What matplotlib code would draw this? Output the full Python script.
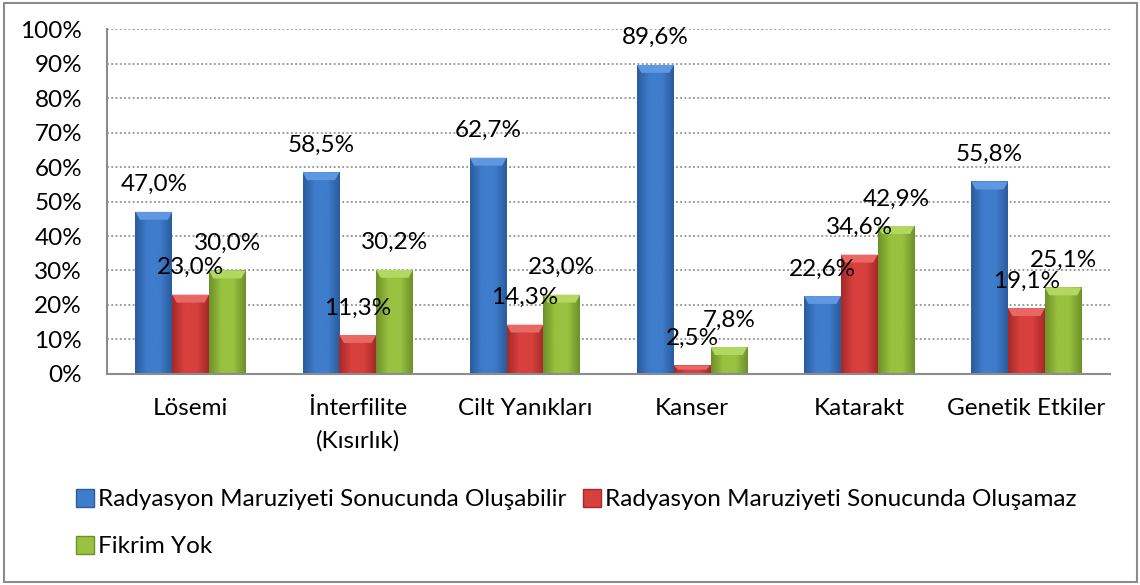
import numpy as np
import matplotlib
matplotlib.use("Agg")
import matplotlib.pyplot as plt
from matplotlib.patches import Patch, Polygon, Rectangle
from matplotlib.colors import LinearSegmentedColormap
from matplotlib.ticker import MultipleLocator, FuncFormatter

plt.rcParams['font.family'] = ['Lato', 'DejaVu Sans']

# data (percent)
categories = ["Lösemi", "İnterfilite\n(Kısırlık)", "Cilt Yanıkları", "Kanser", "Katarakt", "Genetik Etkiler"]
series_names = ["Radyasyon Maruziyeti Sonucunda Oluşabilir",
                "Radyasyon Maruziyeti Sonucunda Oluşamaz",
                "Fikrim Yok"]
olusabilir = [47.0, 58.5, 62.7, 89.6, 22.6, 55.8]
olusamaz = [23.0, 11.3, 14.3, 2.5, 34.6, 19.1]
fikrim_yok = [30.0, 30.2, 23.0, 7.8, 42.9, 25.1]

# (dark edge, face, light bevel)
palettes = [("#2A5C9E", "#3F7DCC", "#5F98E0"),
            ("#A52A28", "#D8403D", "#E86864"),
            ("#6E9128", "#98C23F", "#B3D862")]

FS = 17.5


def shade_bar(ax, bar, dark, mid, light):
    x0, y0 = bar.get_x(), bar.get_y()
    w, h = bar.get_width(), bar.get_height()
    if h <= 0:
        return
    cmap = LinearSegmentedColormap.from_list("g", [dark, mid, mid, dark])
    grad = np.linspace(0, 1, 64).reshape(1, -1)
    im = ax.imshow(grad, cmap=cmap, aspect="auto", extent=(x0, x0 + w, y0, y0 + h),
                   zorder=2, interpolation="bicubic")
    im.set_clip_path(bar)
    # lighter bevel on top of the bar
    bh = min(2.3, h * 0.5)
    dx = w * 0.12
    top = y0 + h
    ax.add_patch(Polygon([(x0, top), (x0 + w, top), (x0 + w - dx, top - bh), (x0 + dx, top - bh)],
                         closed=True, facecolor=light, edgecolor="none", zorder=3))


fig = plt.figure(figsize=(11.4, 5.85), dpi=100)
ax = fig.add_axes([0.0939, 0.3607, 0.8798, 0.5897])

x = np.arange(len(categories))
width = 0.22
all_series = [olusabilir, olusamaz, fikrim_yok]
for i, vals in enumerate(all_series):
    dark, mid, light = palettes[i]
    bars = ax.bar(x + (i - 1) * width, vals, width, color=mid, edgecolor="none", zorder=2)
    for b, v in zip(bars, vals):
        shade_bar(ax, b, dark, mid, light)
        ax.annotate(f"{v:.1f}%".replace(".", ","), (b.get_x() + b.get_width() / 2, v),
                    xytext=(0, 19.5), textcoords="offset points", ha="center", va="center",
                    fontsize=FS, zorder=5)

ax.set_xlim(-0.5, len(categories) - 0.5)
ax.set_ylim(0, 100)
ax.yaxis.set_major_locator(MultipleLocator(10))
ax.yaxis.set_major_formatter(FuncFormatter(lambda v, p: f"{v:.0f}%"))
ax.set_xticks(x)
ax.set_xticklabels(categories, fontsize=FS, linespacing=1.65)
ax.tick_params(axis="both", length=0, labelsize=FS)
ax.tick_params(axis="y", pad=18)
ax.tick_params(axis="x", pad=17)
ax.grid(axis="y", linestyle=(0, (1.2, 1.6)), color="#808080", linewidth=1.1, zorder=0)
ax.set_axisbelow(True)
for s in ["top", "right"]:
    ax.spines[s].set_visible(False)
for s in ["left", "bottom"]:
    ax.spines[s].set_color("#8C8C8C")
    ax.spines[s].set_linewidth(1.5)

# legend: blue and green in first column, red in second -> row-wise order like reference
handles = [Patch(facecolor=palettes[k][1], edgecolor=palettes[k][0]) for k in range(3)]
order = [0, 2, 1]
fig.legend([handles[k] for k in order], [series_names[k] for k in order],
           loc="upper left", bbox_to_anchor=(0.067, 0.164), ncol=2, frameon=False,
           fontsize=17.5, handlelength=0.74, handleheight=0.74, handletextpad=0.15,
           columnspacing=0.7, labelspacing=1.05, borderaxespad=0, borderpad=0)

fig.patches.append(Rectangle((4 / 1140, 3 / 585), 1133 / 1140, 579 / 585, transform=fig.transFigure,
                             fill=False, edgecolor="#8C8C8C", linewidth=1.5))

fig.savefig("out.png", dpi=100)
